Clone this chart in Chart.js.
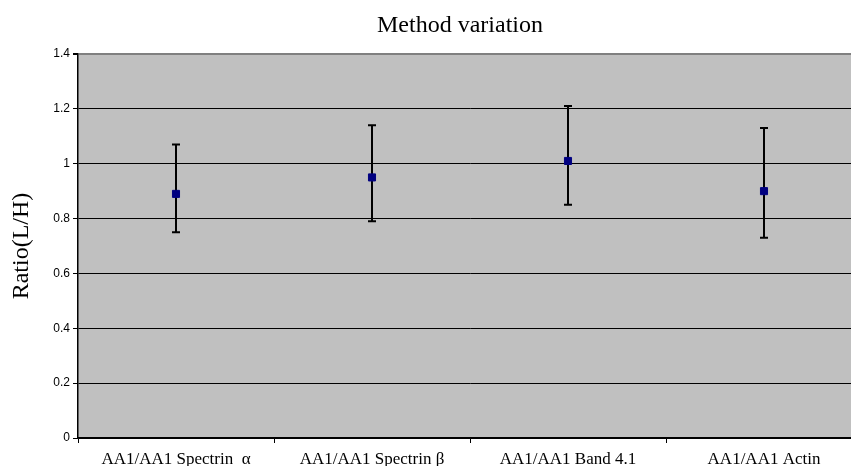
<!DOCTYPE html>
<html>
<head>
<meta charset="utf-8">
<script src="https://cdn.jsdelivr.net/npm/chart.js@4"></script>
<style>
html,body{margin:0;padding:0;overflow:hidden;background:#fff;width:851px;height:466px;}
canvas{display:block;}
</style>
</head>
<body>
<canvas id="c" width="920" height="466"></canvas>
<script>
const categories = ["AA1/AA1 Spectrin  α", "AA1/AA1 Spectrin β", "AA1/AA1 Band 4.1", "AA1/AA1 Actin"];
const means = [0.89, 0.95, 1.01, 0.90];
const upperValues = [1.07, 1.14, 1.21, 1.13];
const lowerValues = [0.75, 0.79, 0.85, 0.73];
const yTicks = [0, 0.2, 0.4, 0.6, 0.8, 1, 1.2, 1.4];
const chartTitle = "Method variation";
const yTitle = "Ratio(L/H)";

const bgPlugin = {
  id: 'plotBg',
  beforeDraw(chart) {
    const {ctx, chartArea: a} = chart;
    ctx.save();
    ctx.fillStyle = '#C0C0C0';
    ctx.fillRect(a.left, a.top, a.right - a.left, a.bottom - a.top);
    ctx.restore();
  }
};

const errPlugin = {
  id: 'errBars',
  beforeDatasetsDraw(chart) {
    const {ctx, scales: {x, y}} = chart;
    ctx.save();
    ctx.strokeStyle = '#000';
    ctx.lineWidth = 2;
    for (let i = 0; i < categories.length; i++) {
      const px = x.getPixelForValue(i);
      const yu = y.getPixelForValue(upperValues[i]);
      const yl = y.getPixelForValue(lowerValues[i]);
      ctx.beginPath();
      ctx.moveTo(px, yu); ctx.lineTo(px, yl);
      ctx.moveTo(px - 4, yu); ctx.lineTo(px + 4, yu);
      ctx.moveTo(px - 4, yl); ctx.lineTo(px + 4, yl);
      ctx.stroke();
    }
    ctx.restore();
  }
};

const textPlugin = {
  id: 'texts',
  afterDraw(chart) {
    const {ctx} = chart;
    ctx.save();
    ctx.fillStyle = '#000';
    ctx.font = '24px "Liberation Serif", "Times New Roman", serif';
    ctx.textAlign = 'center';
    ctx.textBaseline = 'alphabetic';
    ctx.fillText(chartTitle, 460, 32);
    ctx.translate(28, 246);
    ctx.rotate(-Math.PI / 2);
    ctx.fillText(yTitle, 0, 0);
    ctx.restore();
  }
};

new Chart(document.getElementById('c'), {
  type: 'line',
  data: {
    labels: categories,
    datasets: [{
      data: means,
      showLine: false,
      pointStyle: 'rect',
      pointRadius: 5,
      pointBorderWidth: 1,
      pointBackgroundColor: '#000080',
      pointBorderColor: '#000080'
    }]
  },
  options: {
    responsive: false,
    animation: false,
    devicePixelRatio: 1,
    layout: {padding: {top: 54, right: 58, bottom: 0, left: 0}},
    plugins: {legend: {display: false}, title: {display: false}, tooltip: {enabled: false}},
    scales: {
      x: {
        type: 'category',
        offset: true,
        afterFit(s) { s.height = 28; },
        grid: {offset: true, drawOnChartArea: false, drawTicks: true, tickLength: 5, tickColor: '#000'},
        border: {color: '#000', width: 1.5},
        ticks: {color: '#000', padding: 6, maxRotation: 0, autoSkip: false,
                font: {family: '"Liberation Serif", "Times New Roman", serif', size: 17}}
      },
      y: {
        min: 0, max: 1.4,
        afterFit(s) { s.width = 78; },
        afterBuildTicks(s) { s.ticks = yTicks.map(v => ({value: v})); },
        grid: {
          color: c => (c.tick && c.tick.value === 1.4) ? '#808080' : '#000',
          lineWidth: c => (c.tick && c.tick.value === 1.4) ? 2 : 1,
          tickColor: '#000', tickLength: 5
        },
        border: {color: '#000', width: 1.5},
        ticks: {color: '#000', padding: 3,
                font: {family: '"Liberation Sans", Arial, sans-serif', size: 12},
                callback: v => String(Math.round(v * 10) / 10)}
      }
    }
  },
  plugins: [bgPlugin, errPlugin, textPlugin]
});
</script>
</body>
</html>
